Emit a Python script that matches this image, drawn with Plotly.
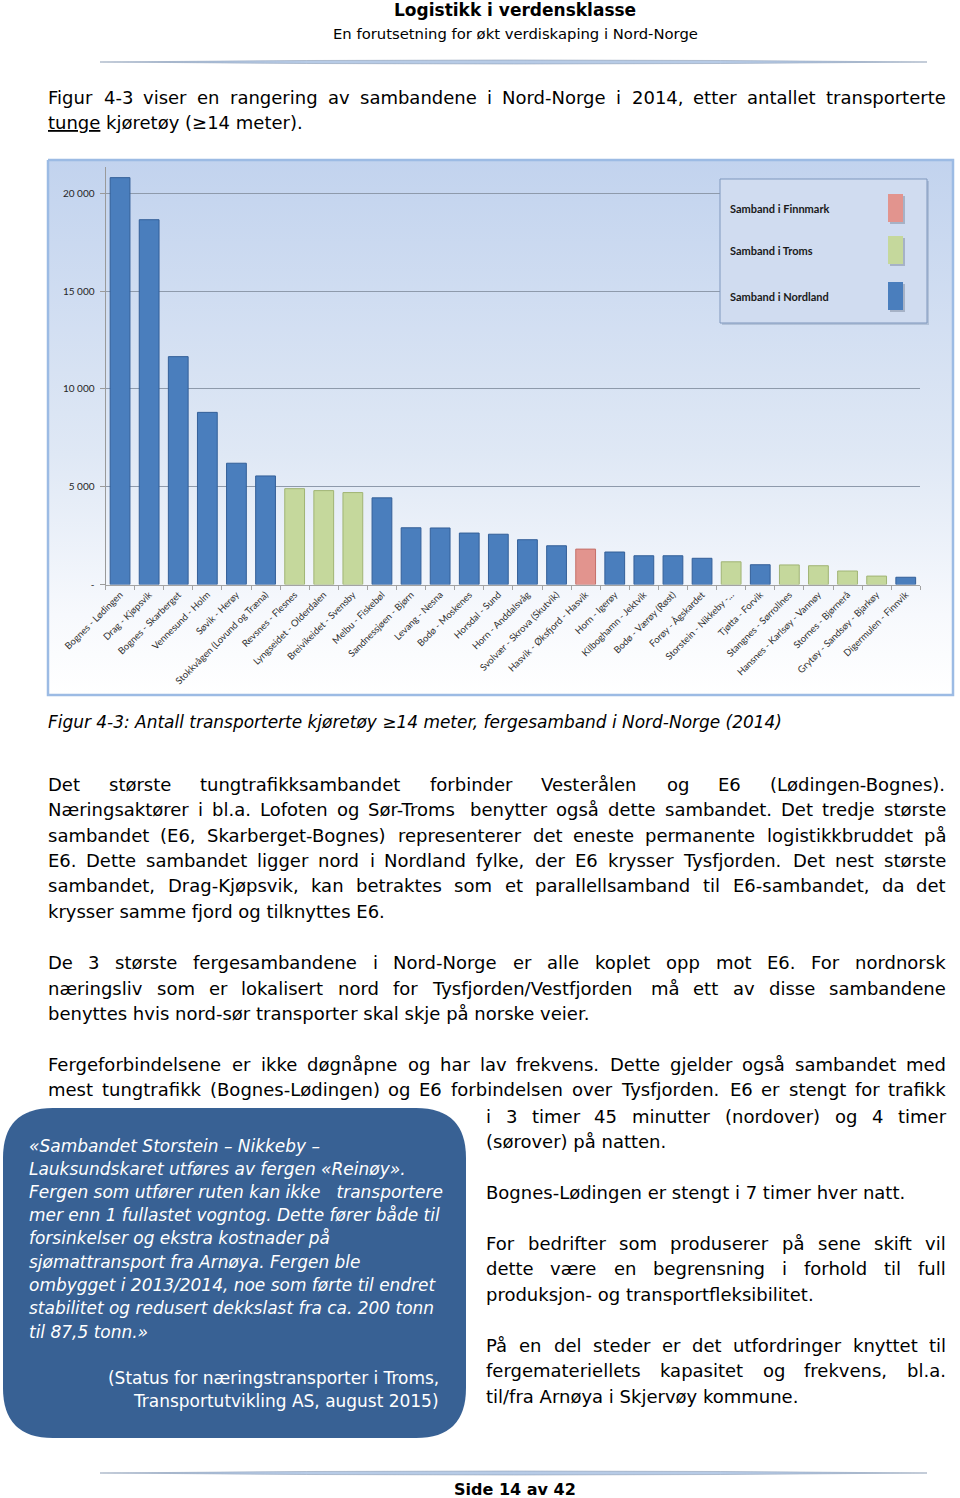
import re
import plotly.graph_objects as go

# ---------------- data ----------------
categories = [
    "Bognes - Lødingen", "Drag - Kjøpsvik", "Bognes - Skarberget", "Vennesund - Holm",
    "Søvik - Herøy", "Stokkvågen (Lovund og Træna)", "Revsnes - Flesnes",
    "Lyngseidet - Olderdalen", "Breivikeidet - Svensby", "Melbu - Fiskebøl",
    "Sandnessjøen - Bjørn", "Levang - Nesna", "Bodø - Moskenes", "Horsdal - Sund",
    "Horn - Anddalsvåg", "Svolvær - Skrova (Skutvik)", "Hasvik - Øksfjord - Hasvik",
    "Horn - Igerøy", "Kilboghamn - Jektvik", "Bodø - Værøy (Røst)", "Forøy - Ågskardet",
    "Storstein - Nikkeby -...", "Tjøtta - Forvik", "Stangnes - Sørrollnes",
    "Hansnes - Karlsøy - Vannøy", "Stornes - Bjørnerå", "Grytøy - Sandsøy - Bjarkøy",
    "Digermulen - Finnvik",
]
vehicles = [20800, 18650, 11650, 8800, 6200, 5550, 4900, 4800, 4700, 4430,
            2900, 2890, 2630, 2570, 2290, 1980, 1810, 1660, 1470, 1470,
            1340, 1160, 1010, 1000, 960, 690, 430, 370]
regions = ["Nordland"] * 6 + ["Troms"] * 3 + ["Nordland"] * 7 + ["Finnmark"] + \
          ["Nordland"] * 4 + ["Troms"] + ["Nordland"] + ["Troms"] * 4 + ["Nordland"]
legend_order = ["Finnmark", "Troms", "Nordland"]
legend_labels = ["Samband i Finnmark", "Samband i Troms", "Samband i Nordland"]
ytick_vals = [0, 5000, 10000, 15000, 20000]
ytick_text = ["-", "5 000", "10 000", "15 000", "20 000"]

region_colors = {"Nordland": "#4a7ebd", "Troms": "#c5d89c", "Finnmark": "#e2948e"}
region_edges = {"Nordland": "#335f98", "Troms": "#a0b474", "Finnmark": "#c4706a"}

# ---------------- page geometry helpers ----------------
W, H, OFF = 960, 1498, 0
def fx(X):
    return (X - OFF) / W
def fy(Y):
    return 1 - (Y - OFF) / H

BODY = "DejaVu Sans"
LAB = "Lato, DejaVu Sans"

# DejaVu Sans advance widths (units / 2048)
WID = {' ': 651, '!': 821, '(': 799, ')': 799, ',': 651, '-': 739, '.': 651, '/': 690,
       ':': 690, ';': 690, '≥': 1716, '«': 1147, '»': 1147, '–': 1024,
       'A': 1401, 'B': 1405, 'C': 1430, 'D': 1577, 'E': 1294, 'F': 1178, 'G': 1587,
       'H': 1540, 'I': 604, 'J': 604, 'K': 1343, 'L': 1141, 'M': 1767, 'N': 1532,
       'O': 1612, 'P': 1235, 'Q': 1612, 'R': 1423, 'S': 1300, 'T': 1251, 'U': 1499,
       'V': 1401, 'W': 2025, 'X': 1403, 'Y': 1251, 'Z': 1403, 'Æ': 2056, 'Ø': 1612,
       'Å': 1401, 'a': 1255, 'b': 1300, 'c': 1126, 'd': 1300, 'e': 1260, 'f': 721,
       'g': 1300, 'h': 1298, 'i': 569, 'j': 569, 'k': 1186, 'l': 569, 'm': 1995,
       'n': 1298, 'o': 1253, 'p': 1300, 'q': 1300, 'r': 842, 's': 1067, 't': 803,
       'u': 1298, 'v': 1212, 'w': 1675, 'x': 1212, 'y': 1212, 'z': 1075, 'æ': 2011,
       'ø': 1253, 'å': 1255}
for d in "0123456789":
    WID[d] = 1303

def wem(s):
    s = re.sub(r"<[^>]+>", "", s)
    return sum(WID.get(c, 1200) for c in s) / 2048.0

ann = []
def txt(x, y, s, size, color="#000000", anchor="left", family=BODY):
    ann.append(dict(x=x, y=y, xref="x", yref="y", text=s, showarrow=False,
                    xanchor=anchor, yanchor="middle", borderpad=0,
                    font=dict(family=family, size=size, color=color)))

def line_words(s, x0, x1, y, size, justify, color="#000000"):
    if not justify:
        txt(x0, y, s, size, color=color)
        return
    words = s.split(" ")
    widths = [wem(w) * size for w in words]
    gap = (x1 - x0 - sum(widths)) / (len(words) - 1)
    x = x0
    for w, wd in zip(words, widths):
        txt(x, y, w, size, color=color)
        x += wd + gap

# ---------------- body text ----------------
L, R, RC = 47, 945, 485
p1 = ["Figur 4-3 viser en rangering av sambandene i Nord-Norge i 2014, etter antallet transporterte",
      "<u>tunge</u> kjøretøy (≥14 meter)."]
p2 = ["Det største tungtrafikksambandet forbinder Vesterålen og E6 (Lødingen-Bognes).",
      "Næringsaktører i bl.a. Lofoten og Sør-Troms benytter også dette sambandet. Det tredje største",
      "sambandet (E6, Skarberget-Bognes) representerer det eneste permanente logistikkbruddet på",
      "E6. Dette sambandet ligger nord i Nordland fylke, der E6 krysser Tysfjorden. Det nest største",
      "sambandet, Drag-Kjøpsvik, kan betraktes som et parallellsamband til E6-sambandet, da det",
      "krysser samme fjord og tilknyttes E6."]
p3 = ["De 3 største fergesambandene i Nord-Norge er alle koplet opp mot E6. For nordnorsk",
      "næringsliv som er lokalisert nord for Tysfjorden/Vestfjorden må ett av disse sambandene",
      "benyttes hvis nord-sør transporter skal skje på norske veier."]
p4 = ["Fergeforbindelsene er ikke døgnåpne og har lav frekvens. Dette gjelder også sambandet med",
      "mest tungtrafikk (Bognes-Lødingen) og E6 forbindelsen over Tysfjorden. E6 er stengt for trafikk"]
p4r = ["i 3 timer 45 minutter (nordover) og 4 timer", "(sørover) på natten."]
p5 = ["Bognes-Lødingen er stengt i 7 timer hver natt."]
p6 = ["For bedrifter som produserer på sene skift vil",
      "dette være en begrensning i forhold til full",
      "produksjon- og transportfleksibilitet."]
p7 = ["På en del steder er det utfordringer knyttet til",
      "fergemateriellets kapasitet og frekvens, bl.a.",
      "til/fra Arnøya i Skjervøy kommune."]

full_just = [p1[0]] + p2[:5] + p3[:2] + p4
col_just = [p4r[0], p6[0], p6[1], p7[0], p7[1]]
fit = [(R - L) / wem(s) for s in full_just] + [(R - RC) / wem(s) for s in col_just]
BS = min(min(fit) * 0.99, 18.0)

def para(lines, x0, x1, ys, size=BS):
    for i, (s, y) in enumerate(zip(lines, ys)):
        line_words(s, x0, x1, y, size, justify=(i < len(lines) - 1))

para(p1, L, R, [97, 122])
para(p2, L, R, [784, 809, 835, 860, 885, 911])
para(p3, L, R, [962, 988, 1013])
line_words(p4[0], L, R, 1064, BS, True)
line_words(p4[1], L, R, 1089, BS, True)
para(p4r, RC, R, [1116, 1141])
para(p5, RC, R, [1192])
para(p6, RC, R, [1243, 1268, 1294])
para(p7, RC, R, [1345, 1370, 1396])

# caption
caption = "Figur 4-3: Antall transporterte kjøretøy ≥14 meter, fergesamband i Nord-Norge (2014)"
cap_size = min(BS, (783 - 47) / wem(caption))
txt(47, 722, "<i>" + caption + "</i>", cap_size)

# header / footer
txt(515, 10, "<b>Logistikk i verdensklasse</b>", 17, anchor="center")
txt(515, 33, "En forutsetning for økt verdiskaping i Nord-Norge", 14.8, anchor="center")
txt(515, 1489, "<b>Side 14 av 42</b>", 16, anchor="center")

# quote box text
box_lines = ["«Sambandet Storstein – Nikkeby –",
             "Lauksundskaret utføres av fergen «Reinøy».",
             "Fergen som utfører ruten kan ikke   transportere",
             "mer enn 1 fullastet vogntog. Dette fører både til",
             "forsinkelser og ekstra kostnader på",
             "sjømattransport fra Arnøya. Fergen ble",
             "ombygget i 2013/2014, noe som førte til endret",
             "stabilitet og redusert dekkslast fra ca. 200 tonn",
             "til 87,5 tonn.»"]
box_ys = [1146, 1169, 1192, 1215, 1238, 1262, 1285, 1308, 1332]
box_size = min(BS, min((442 - 28) / wem(s) for s in box_lines))
for s, y in zip(box_lines, box_ys):
    txt(28, y, "<i>" + s.replace("   ", "&nbsp;&nbsp; ") + "</i>", box_size, color="#ffffff")
cite = ["(Status for næringstransporter i Troms,", "Transportutvikling AS, august 2015)"]
for s, y in zip(cite, [1378, 1401]):
    txt(440, y, s, box_size, color="#ffffff", anchor="right")

# ---------------- shapes ----------------
shapes = []
def lens(y, x0=100, x1=927):
    xm = (x0 + x1) / 2
    shapes.append(dict(type="path", xref="x", yref="y", layer="above",
                       path=f"M{x0},{y} Q{xm},{y-4} {x1},{y} Q{xm},{y+4} {x0},{y} Z",
                       fillcolor="#b7cbe6", line=dict(color="#8d9db5", width=0.6)))
lens(62)
lens(1473)

# rounded quote box
bx0, bx1, by0, by1, r = 3, 466, 1108, 1438, 50
shapes.append(dict(type="path", xref="x", yref="y", layer="below",
                   path=(f"M{bx0+r},{by0} L{bx1-r},{by0} Q{bx1},{by0} {bx1},{by0+r} "
                         f"L{bx1},{by1-r} Q{bx1},{by1} {bx1-r},{by1} L{bx0+r},{by1} "
                         f"Q{bx0},{by1} {bx0},{by1-r} L{bx0},{by0+r} Q{bx0},{by0} {bx0+r},{by0} Z"),
                   fillcolor="#386194", line=dict(width=0)))

# legend box (custom: label left, swatch right)
shapes.append(dict(type="rect", xref="x", yref="y", layer="above", x0=722, x1=929, y0=181, y1=325,
                   fillcolor="rgba(120,140,170,0.35)", line=dict(width=0)))
shapes.append(dict(type="rect", xref="x", yref="y", layer="above", x0=720, x1=927, y0=179, y1=323,
                   fillcolor="#d0dcf0", line=dict(color="#7f97bd", width=1)))
leg_y = [(194, 222), (236, 264), (282, 310)]
for reg, lab, (sy0, sy1) in zip(legend_order, legend_labels, leg_y):
    shapes.append(dict(type="rect", xref="x", yref="y", layer="above", x0=890, x1=905,
                       y0=sy0 + 2, y1=sy1 + 2, fillcolor="rgba(90,100,120,0.35)", line=dict(width=0)))
    shapes.append(dict(type="rect", xref="x", yref="y", layer="above", x0=888, x1=903,
                       y0=sy0, y1=sy1, fillcolor=region_colors[reg], line=dict(width=0)))
    txt(729, (sy0 + sy1) / 2, "<b>" + lab + "</b>", 11, color="#1a1a1a", family=LAB)

# ---------------- figure ----------------
fig = go.Figure()

# chart background with gradient (page axes)
fig.add_trace(go.Scatter(
    x=[48, 953, 953, 48, 48], y=[160, 160, 695, 695, 160], mode="lines", fill="toself",
    fillgradient=dict(type="vertical", start=160, stop=695,
                      colorscale=[[0, "#c2d3ee"], [0.55, "#dfe8f5"], [0.85, "#f7f9fd"], [1, "#ffffff"]]),
    line=dict(color="#9cbbe4", width=2.5), hoverinfo="skip", showlegend=False,
    xaxis="x", yaxis="y"))

for reg in legend_order:
    xs = [c for c, g in zip(categories, regions) if g == reg]
    ys = [v for v, g in zip(vehicles, regions) if g == reg]
    fig.add_trace(go.Bar(x=xs, y=ys, name="Samband i " + reg, xaxis="x2", yaxis="y2",
                         marker=dict(color=region_colors[reg],
                                     line=dict(color=region_edges[reg], width=1)),
                         showlegend=False))

# chart geometry (page pixels)
X_L, X_R = 105.5, 920.3
Y_TOP, Y_BOT = 167.0, 584.5
Y_MAX = 5000 * (Y_BOT - Y_TOP) / 97.8

fig.update_layout(
    width=W, height=H, margin=dict(l=0, r=0, t=0, b=0, pad=0, autoexpand=False),
    paper_bgcolor="#ffffff", plot_bgcolor="rgba(0,0,0,0)",
    barmode="overlay", bargap=0.32,
    xaxis=dict(domain=[0, 1], range=[OFF, OFF + W], visible=False, fixedrange=True,
               automargin=False),
    yaxis=dict(domain=[0, 1], range=[OFF + H, OFF], visible=False, fixedrange=True,
               automargin=False),
    xaxis2=dict(domain=[fx(X_L), fx(X_R)], anchor="y2", type="category", automargin=False,
                categoryorder="array", categoryarray=categories, range=[-0.5, len(categories) - 0.5],
                tickangle=-45, tickfont=dict(family=LAB, size=9.5, color="#303030"),
                showline=True, linecolor="#a3a3a3", linewidth=1,
                ticks="outside", tickson="boundaries", ticklen=4, tickcolor="#a3a3a3",
                showgrid=False, zeroline=False),
    yaxis2=dict(domain=[fy(Y_BOT), fy(Y_TOP)], anchor="x2", range=[0, Y_MAX], automargin=False,
                tickvals=ytick_vals, ticktext=ytick_text,
                tickfont=dict(family=LAB, size=10, color="#262626"),
                showline=True, linecolor="#9a9a9a", linewidth=1,
                ticks="outside", ticklen=5, tickcolor="#9a9a9a", ticklabelstandoff=3,
                showgrid=True, gridcolor="#8e9aab", gridwidth=1, zeroline=False),
    shapes=shapes, annotations=ann, showlegend=False,
)

fig.write_html("out.html", config={"displayModeBar": False},
               post_script="document.body.style.margin='0px';document.body.style.overflow='hidden';")
